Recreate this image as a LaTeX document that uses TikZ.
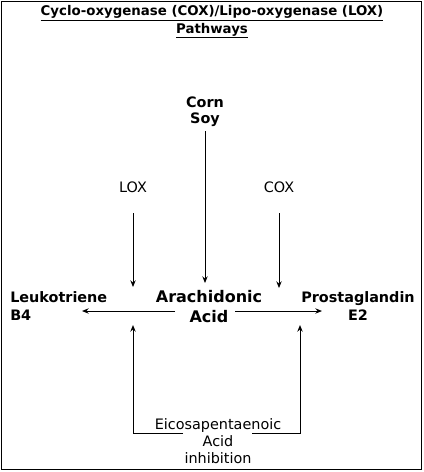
\documentclass[tikz,border=0pt]{standalone}
\usepackage{fontspec}
\setmainfont{DejaVu Sans}
\usetikzlibrary{arrows.meta}
\begin{document}
\begin{tikzpicture}[x=0.75pt,y=-0.75pt,
  lbl/.style={inner sep=0pt, align=center},
  ttl/.style={lbl, font=\bfseries\fontsize{10}{11.25}\selectfont},
  big/.style={lbl, font=\bfseries\fontsize{12}{15}\selectfont},
  med/.style={lbl, font=\bfseries\fontsize{10.8}{13.5}\selectfont},
  reg/.style={lbl, font=\fontsize{10.8}{12.75}\selectfont},
  arr/.style={line width=0.75pt, -{Stealth[length=5pt,width=4pt]}},
  ln/.style={line width=0.75pt}]
\useasboundingbox (0,0) rectangle (424,472);
\draw[ln] (1,1) rectangle (421,469);
\node[ttl, anchor=base] (title) at (212,33) {\underline{Cyclo-oxygenase (COX)/Lipo-oxygenase (LOX)}\\\underline{Pathways}};
\node[med, font=\bfseries\fontsize{10.8}{12}\selectfont, anchor=base] (corn) at (205,123) {Corn\\Soy};
\node[reg, anchor=base] (lox) at (133,192) {LOX};
\node[reg, anchor=base] (cox) at (279,192) {COX};
\node[big, anchor=base] (arach) at (209,322) {Arachidonic\\Acid};
\node[med, align=left, anchor=base west] (leuk) at (10,320) {Leukotriene\\B4};
\node[med, anchor=base east] (prost) at (415,320) {Prostaglandin\\E2};
\node[reg, anchor=base] (epa) at (218,463) {Eicosapentaenoic\\Acid\\inhibition};
\coordinate (cornstart) at (205,131);
\coordinate (cornend) at (205,283);
\coordinate (loxstart) at (133,213);
\coordinate (loxend) at (133,287);
\coordinate (coxstart) at (279,213);
\coordinate (coxend) at (279,288);
\coordinate (leukend) at (82,311);
\coordinate (prostend) at (322,311);
\coordinate (arL) at (175,311);
\coordinate (arR) at (235,311);
\coordinate (upL) at (133,325);
\coordinate (upR) at (300,325);
\coordinate (bl) at (133,433);
\coordinate (br) at (300,433);
\coordinate (gL) at (183,433);
\coordinate (gR) at (252,433);
\draw[arr] (cornstart) -- (cornend);
\draw[arr] (loxstart) -- (loxend);
\draw[arr] (coxstart) -- (coxend);
\draw[arr] (arL) -- (leukend);
\draw[arr] (arR) -- (prostend);
\draw[arr] (gL) -- (bl) -- (upL);
\draw[arr] (gR) -- (br) -- (upR);
\end{tikzpicture}
\end{document}
